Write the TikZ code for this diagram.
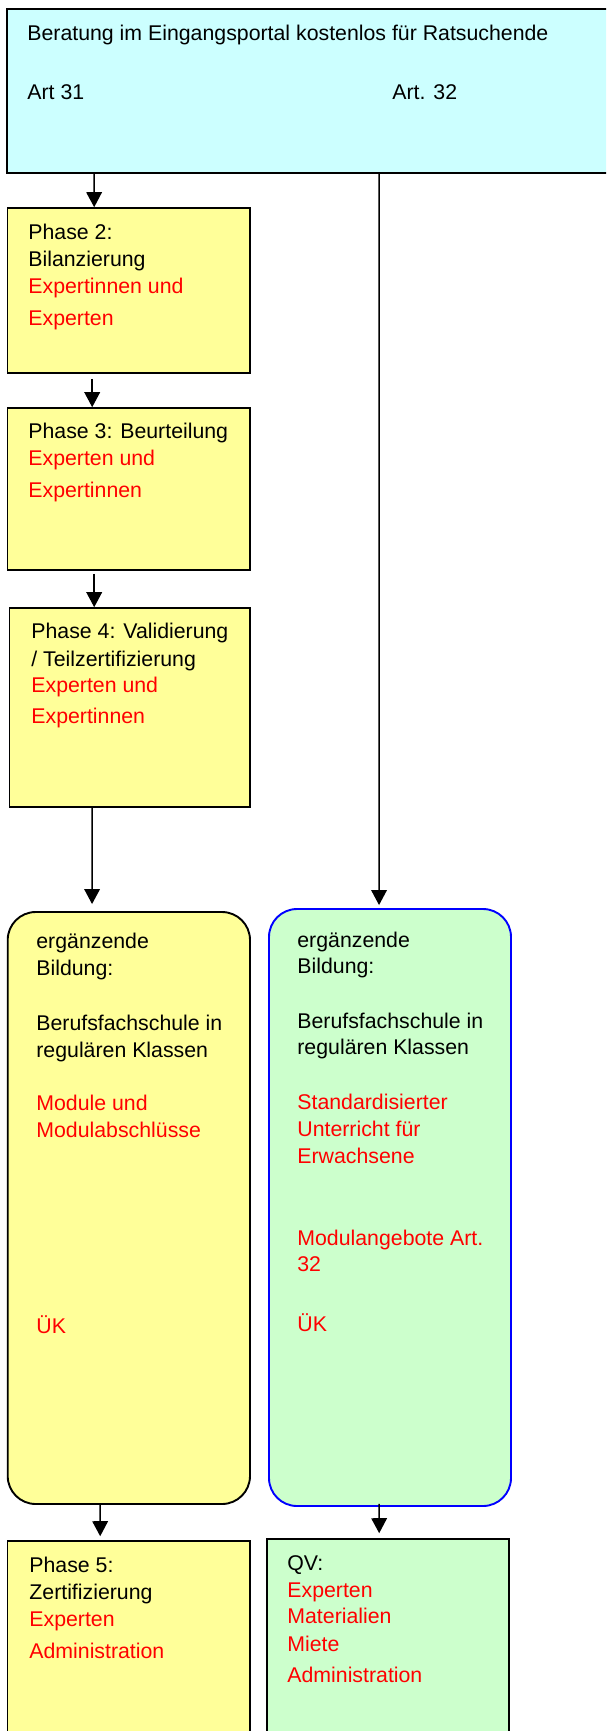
\documentclass[tikz,border=0pt]{standalone}
\usepackage{fontspec}
\setmainfont{Liberation Sans}
\usetikzlibrary{fit,calc,arrows.meta}
\definecolor{cyanbg}{HTML}{CCFFFF}
\definecolor{yellowbg}{HTML}{FFFF99}
\definecolor{greenbg}{HTML}{CCFFCC}
\definecolor{redtxt}{HTML}{FF0000}
\definecolor{blueline}{HTML}{0000FF}
\tikzset{
  box/.style={draw=black, line width=0.8pt, inner sep=0pt},
  ybox/.style={box, fill=yellowbg},
  gbox/.style={box, fill=greenbg},
  cbox/.style={box, fill=cyanbg, line width=1pt},
  rbox/.style={rounded corners=14pt, line width=0.95pt},
  tx/.style={anchor=base west, inner sep=0pt, font=\fontsize{10.65pt}{12pt}\selectfont},
  rd/.style={tx, text=redtxt},
  arr/.style={line width=0.75pt, -{Triangle[length=7.5pt,width=7.8pt]}}
}
\begin{document}
\begin{tikzpicture}[x=0.5pt,y=-0.5pt]
\useasboundingbox (0,0) rectangle (606,1731);
\clip (0,0) rectangle (606,1731);
% boxes
\node[cbox, fit={(7,9) (625,173)}] (tb) {};
\node[ybox, fit={(7.5,208) (250,373)}] (p2) {};
\node[ybox, fit={(7.5,408) (250,570)}] (p3) {};
\node[ybox, fit={(9.5,608) (250,807)}] (p4) {};
\node[ybox, rbox, fit={(7.7,912) (250,1504)}] (lb) {};
\node[gbox, rbox, draw=blueline, fit={(269,909) (511,1506)}] (rb) {};
\node[ybox, fit={(7.5,1541) (250,1760)}] (p5) {};
\node[gbox, fit={(267,1539) (509,1760)}] (qv) {};
% arrows
\draw[arr] ($(tb.south west)+(88,0)$) -- ($(p2.north west)+(87.5,0)$);
\draw[arr] ($(tb.south west)+(373,0)$) -- ($(rb.north west)+(111,-3)$);
\draw[arr] ($(p2.south west)+(85.5,5)$) -- ($(p3.north west)+(85.5,0)$);
\draw[arr] ($(p3.south west)+(87.5,3)$) -- ($(p4.north west)+(85.5,0)$);
\draw[arr] ($(p4.south west)+(83.5,0)$) -- ($(lb.north west)+(85.3,-7)$);
\draw[arr] ($(lb.south west)+(93.3,0)$) -- ($(p5.north west)+(93.5,-4)$);
\draw[arr] ($(rb.south west)+(111,-3)$) -- ($(qv.north west)+(113,-5)$);
% top box texts
\node[tx] (t1) at (27,40) {Beratung im Eingangsportal kostenlos für Ratsuchende};
\node[tx] (t2) at (27,99) {Art 31};
\node[tx] (t3) at (392,99) {Art. 32};
% phase 2
\node[tx] (p2a) at (28,239) {Phase 2:};
\node[tx] (p2b) at (28,266) {Bilanzierung};
\node[rd] (p2c) at (28,293) {Expertinnen und};
\node[rd] (p2d) at (28,325) {Experten};
% phase 3
\node[tx] (p3a) at (28,438) {Phase 3: Beurteilung};
\node[rd] (p3b) at (28,465) {Experten und};
\node[rd] (p3c) at (28,497) {Expertinnen};
% phase 4
\node[tx] (p4a) at (31,638) {Phase 4: Validierung};
\node[tx] (p4b) at (31,666) {/ Teilzertifizierung};
\node[rd] (p4c) at (31,692) {Experten und};
\node[rd] (p4d) at (31,723) {Expertinnen};
% left rounded box
\node[tx] (la) at (36,948) {ergänzende};
\node[tx] (lbb) at (36,975) {Bildung:};
\node[tx] (lc) at (36,1030) {Berufsfachschule in};
\node[tx] (ld) at (36,1057) {regulären Klassen};
\node[rd] (le) at (36,1110) {Module und};
\node[rd] (lf) at (36,1137) {Modulabschlüsse};
\node[rd] (lg) at (36,1333) {ÜK};
% right rounded box
\node[tx] (ra) at (297,947) {ergänzende};
\node[tx] (rbb) at (297,973) {Bildung:};
\node[tx] (rc) at (297,1028) {Berufsfachschule in};
\node[tx] (rd1) at (297,1054) {regulären Klassen};
\node[rd] (re) at (297,1109) {Standardisierter};
\node[rd] (rf) at (297,1136) {Unterricht für};
\node[rd] (rg) at (297,1163) {Erwachsene};
\node[rd] (rh) at (297,1245) {Modulangebote Art.};
\node[rd] (ri) at (297,1271) {32};
\node[rd] (rj) at (297,1331) {ÜK};
% phase 5
\node[tx] (p5a) at (29,1572) {Phase 5:};
\node[tx] (p5b) at (29,1599) {Zertifizierung};
\node[rd] (p5c) at (29,1626) {Experten};
\node[rd] (p5d) at (29,1658) {Administration};
% QV
\node[tx] (qa) at (287,1570) {QV:};
\node[rd] (qb) at (287,1597) {Experten};
\node[rd] (qc) at (287,1623) {Materialien};
\node[rd] (qd) at (287,1651) {Miete};
\node[rd] (qe) at (287,1682) {Administration};
\end{tikzpicture}
\end{document}
